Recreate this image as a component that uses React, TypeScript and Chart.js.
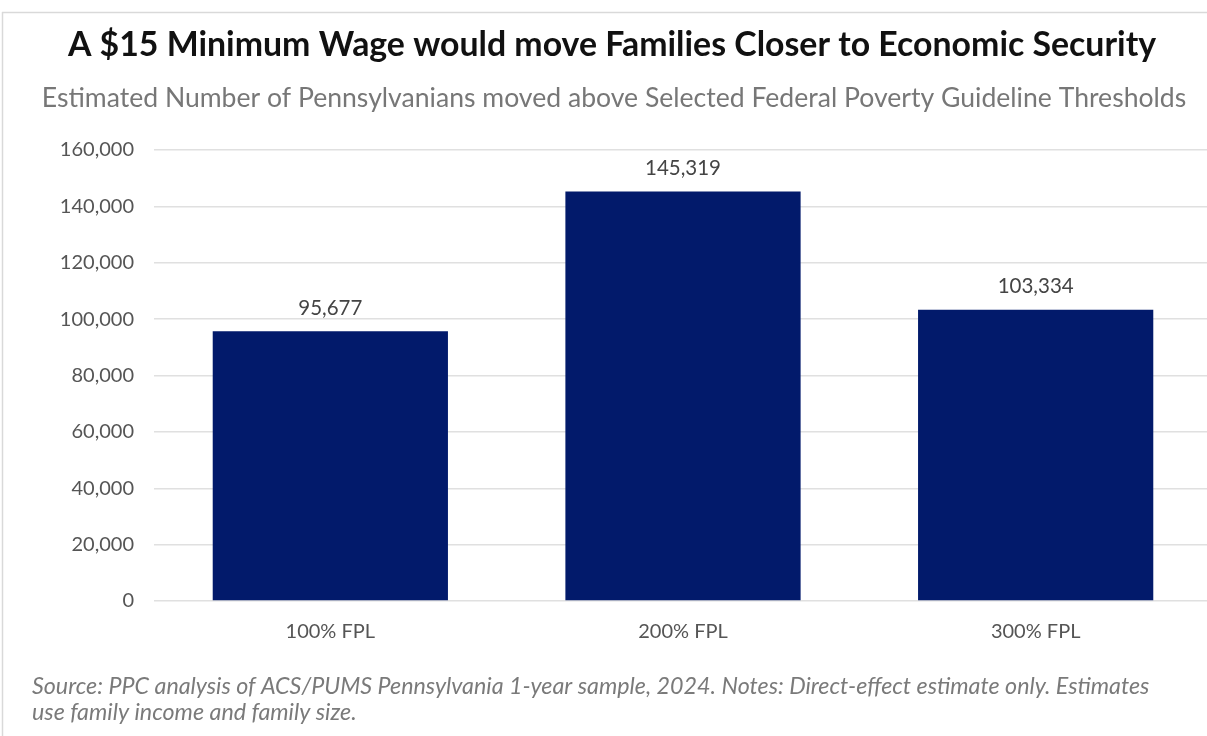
import React, { useEffect, useRef } from "react";
import { Chart, registerables } from "chart.js";

Chart.register(...registerables);

const categories = ["100% FPL", "200% FPL", "300% FPL"];
const values = [95677, 145319, 103334];
const yMin = 0;
const yMax = 160000;
const yStep = 20000;
const titleText = "A $15 Minimum Wage would move Families Closer to Economic Security";
const subtitleText =
  "Estimated Number of Pennsylvanians moved above Selected Federal Poverty Guideline Thresholds";
const footerLines = [
  "Source: PPC analysis of ACS/PUMS Pennsylvania 1-year sample, 2024. Notes: Direct-effect estimate only. Estimates",
  "use family income and family size.",
];

const FONT = "Lato, 'Open Sans', sans-serif";
const W = 1212;
const H = 736;

function fitFont(ctx: CanvasRenderingContext2D, text: string, style: string, target: number, base: number) {
  ctx.font = `${style} ${base}px ${FONT}`;
  const w = ctx.measureText(text).width;
  const size = (base * target) / w;
  return `${style} ${size.toFixed(2)}px ${FONT}`;
}

const decorPlugin = {
  id: "decor",
  beforeDraw(chart: any) {
    const ctx: CanvasRenderingContext2D = chart.ctx;
    ctx.save();
    ctx.fillStyle = "#ffffff";
    ctx.fillRect(0, 0, chart.width, chart.height);
    ctx.strokeStyle = "#d9d9d9";
    ctx.lineWidth = 1.5;
    ctx.beginPath();
    ctx.moveTo(2, 12.5);
    ctx.lineTo(chart.width, 12.5);
    ctx.moveTo(2.5, 12);
    ctx.lineTo(2.5, chart.height);
    ctx.stroke();

    ctx.textAlign = "center";
    ctx.textBaseline = "middle";
    ctx.fillStyle = "#111111";
    ctx.font = fitFont(ctx, titleText, "bold", 1089, 30);
    ctx.fillText(titleText, 612, 45);

    ctx.fillStyle = "#777777";
    ctx.font = fitFont(ctx, subtitleText, "normal", 1145, 21);
    ctx.fillText(subtitleText, 614, 98);

    ctx.textAlign = "left";
    ctx.fillStyle = "#7a7a7a";
    ctx.font = fitFont(ctx, footerLines[0], "italic", 1118, 18);
    ctx.fillText(footerLines[0], 32, 686);
    ctx.fillText(footerLines[1], 32, 712);
    ctx.restore();
  },
  afterDatasetsDraw(chart: any) {
    const ctx: CanvasRenderingContext2D = chart.ctx;
    const meta = chart.getDatasetMeta(0);
    ctx.save();
    ctx.fillStyle = "#444444";
    ctx.font = `normal 20.5px ${FONT}`;
    ctx.textAlign = "center";
    ctx.textBaseline = "middle";
    meta.data.forEach((bar: any, i: number) => {
      const v = chart.data.datasets[0].data[i] as number;
      ctx.fillText(v.toLocaleString("en-US"), bar.x, bar.y - 23);
    });
    ctx.restore();
  },
};

export default function App() {
  const ref = useRef<HTMLCanvasElement | null>(null);
  useEffect(() => {
    document.body.style.margin = "0";
    document.body.style.overflow = "hidden";
    const canvas = ref.current;
    if (!canvas) return;
    const chart = new Chart(canvas, {
      type: "bar",
      data: {
        labels: categories,
        datasets: [
          {
            data: values,
            backgroundColor: "#021a6b",
            borderWidth: 0,
            barPercentage: 0.667,
            categoryPercentage: 1,
          },
        ],
      },
      options: {
        responsive: false,
        animation: false,
        devicePixelRatio: 1,
        layout: { padding: { top: 150, left: 0, right: 0, bottom: 0 } },
        plugins: {
          legend: { display: false },
          title: { display: false },
          tooltip: { enabled: false },
        },
        scales: {
          x: {
            grid: { display: false, drawTicks: false },
            border: { display: false },
            ticks: { color: "#555555", font: { family: FONT, size: 20 }, padding: 19 },
            afterFit: (s: any) => {
              s.height = H - 601;
            },
          },
          y: {
            min: yMin,
            max: yMax,
            grid: { color: "#e0e0e0", lineWidth: 1.5, drawTicks: false },
            border: { display: false },
            ticks: {
              stepSize: yStep,
              color: "#555555",
              font: { family: FONT, size: 20 },
              padding: 20,
              callback: (v: any) => Number(v).toLocaleString("en-US"),
            },
            afterFit: (s: any) => {
              s.width = 154;
            },
          },
        },
      },
      plugins: [decorPlugin],
    });
    return () => chart.destroy();
  }, []);
  return (
    <div style={{ position: "absolute", left: 0, top: 0, width: W, height: H }}>
      <canvas ref={ref} width={W} height={H} style={{ width: W, height: H, display: "block" }} />
    </div>
  );
}
